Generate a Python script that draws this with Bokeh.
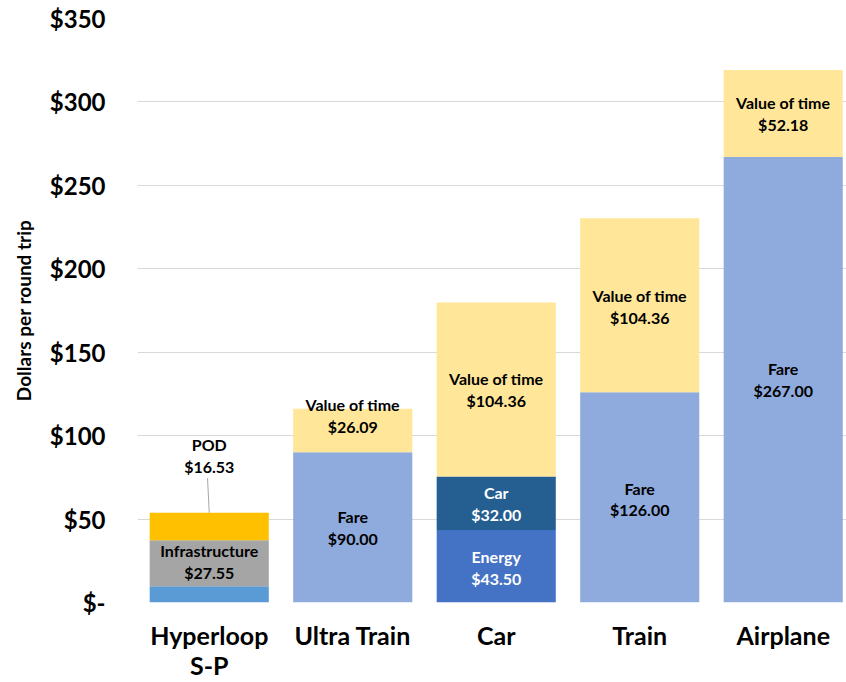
from bokeh.plotting import figure
from bokeh.models import FixedTicker, Range1d, ColumnDataSource
from bokeh.core.properties import value
from bokeh.embed import file_html
from bokeh.resources import INLINE

categories = ["Hyperloop\nS-P", "Ultra Train", "Car", "Train", "Airplane"]

# segments: category index, name, value, colour
seg_cat = [0, 0, 0, 1, 1, 2, 2, 2, 3, 3, 4, 4]
seg_val = [9.7, 27.55, 16.53, 90.00, 26.09, 43.50, 32.00, 104.36, 126.00, 104.36, 267.00, 52.18]
seg_name = ["Other", "Infrastructure", "POD", "Fare", "Value of time", "Energy", "Car",
            "Value of time", "Fare", "Value of time", "Fare", "Value of time"]
seg_color = ["#5b9bd5", "#a5a5a5", "#ffc000", "#8faadc", "#ffe699", "#4472c4", "#255e91",
             "#ffe699", "#8faadc", "#ffe699", "#8faadc", "#ffe699"]
seg_show = [False, True, False, True, True, True, True, True, True, True, True, True]
seg_txtcol = ["black", "black", "black", "black", "black", "white", "white",
              "black", "black", "black", "black", "black"]
seg_dy = [0, 1, 0, 0, 9, -1, 0, 0, -1, -1, 0, 0]

yticks = [0, 50, 100, 150, 200, 250, 300, 350]

FONT = "Lato"

# compute stacks
bottoms, tops = [], []
running = {}
for c, v in zip(seg_cat, seg_val):
    b = running.get(c, 0.0)
    bottoms.append(b)
    tops.append(b + v)
    running[c] = b + v

src = ColumnDataSource(dict(x=seg_cat, bottom=bottoms, top=tops, color=seg_color))

p = figure(width=846, height=682, output_backend="svg", toolbar_location=None,
           x_range=Range1d(-0.5, 4.441), y_range=Range1d(0, 350),
           min_border_left=137, min_border_top=18, min_border_bottom=79, min_border_right=0)
p.outline_line_color = None
p.background_fill_color = "white"

p.vbar(x="x", bottom="bottom", top="top", width=0.83, fill_color="color",
       line_color=None, source=src)

# labels
lx, ly, lt, lc = [], [], [], []
for i in range(len(seg_val)):
    if not seg_show[i]:
        continue
    lx.append(seg_cat[i])
    ly.append((bottoms[i] + tops[i]) / 2 + seg_dy[i])
    lt.append(f"{seg_name[i]}\n${seg_val[i]:.2f}")
    lc.append(seg_txtcol[i])
p.text(x=lx, y=ly, text=lt, text_color=lc, text_align="center", text_baseline="middle",
       text_font=value(FONT), text_font_style="bold", text_font_size="16px",
       text_line_height=1.15)

# POD callout
pod_i = 2
p.segment(x0=[seg_cat[pod_i]], y0=[tops[pod_i]], x1=[seg_cat[pod_i] - 0.012], y1=[74.5],
          line_color="#a6a6a6", line_width=1)
p.text(x=[seg_cat[pod_i]], y=[88], text=[f"{seg_name[pod_i]}\n${seg_val[pod_i]:.2f}"],
       text_align="center", text_baseline="middle", text_font=value(FONT),
       text_font_style="bold", text_font_size="16px", text_line_height=1.15, text_color="black")

# axes
p.yaxis.ticker = FixedTicker(ticks=yticks)
p.yaxis.major_label_overrides = {t: ("$-" if t == 0 else f"${t}") for t in yticks}
p.yaxis.major_label_text_font = FONT
p.yaxis.major_label_text_font_style = "bold"
p.yaxis.major_label_text_font_size = "24px"
p.yaxis.major_label_text_color = "black"
p.yaxis.major_label_standoff = 32
p.yaxis.major_tick_out = 0
p.yaxis.major_tick_in = 0
p.yaxis.axis_line_color = None
p.yaxis.major_tick_line_color = None
p.yaxis.minor_tick_line_color = None
p.yaxis.axis_label = "Dollars per round trip"
p.yaxis.axis_label_text_font = FONT
p.yaxis.axis_label_text_font_style = "bold"
p.yaxis.axis_label_text_font_size = "19px"
p.yaxis.axis_label_text_color = "black"
p.yaxis.axis_label_standoff = 12

p.xaxis.ticker = FixedTicker(ticks=list(range(len(categories))))
p.xaxis.major_label_overrides = {i: c for i, c in enumerate(categories)}
p.xaxis.major_label_text_font = FONT
p.xaxis.major_label_text_font_style = "bold"
p.xaxis.major_label_text_font_size = "25px"
p.xaxis.major_label_text_line_height = 1.0
p.xaxis.major_label_text_color = "black"
p.xaxis.major_label_standoff = 17
p.xaxis.major_tick_out = 0
p.xaxis.major_tick_in = 0
p.xaxis.axis_line_color = None
p.xaxis.major_tick_line_color = None
p.xaxis.minor_tick_line_color = None

p.xgrid.grid_line_color = None
p.ygrid.grid_line_color = "#d9d9d9"
p.ygrid.grid_line_width = 1

open("out.html", "w").write(file_html(p, INLINE))
